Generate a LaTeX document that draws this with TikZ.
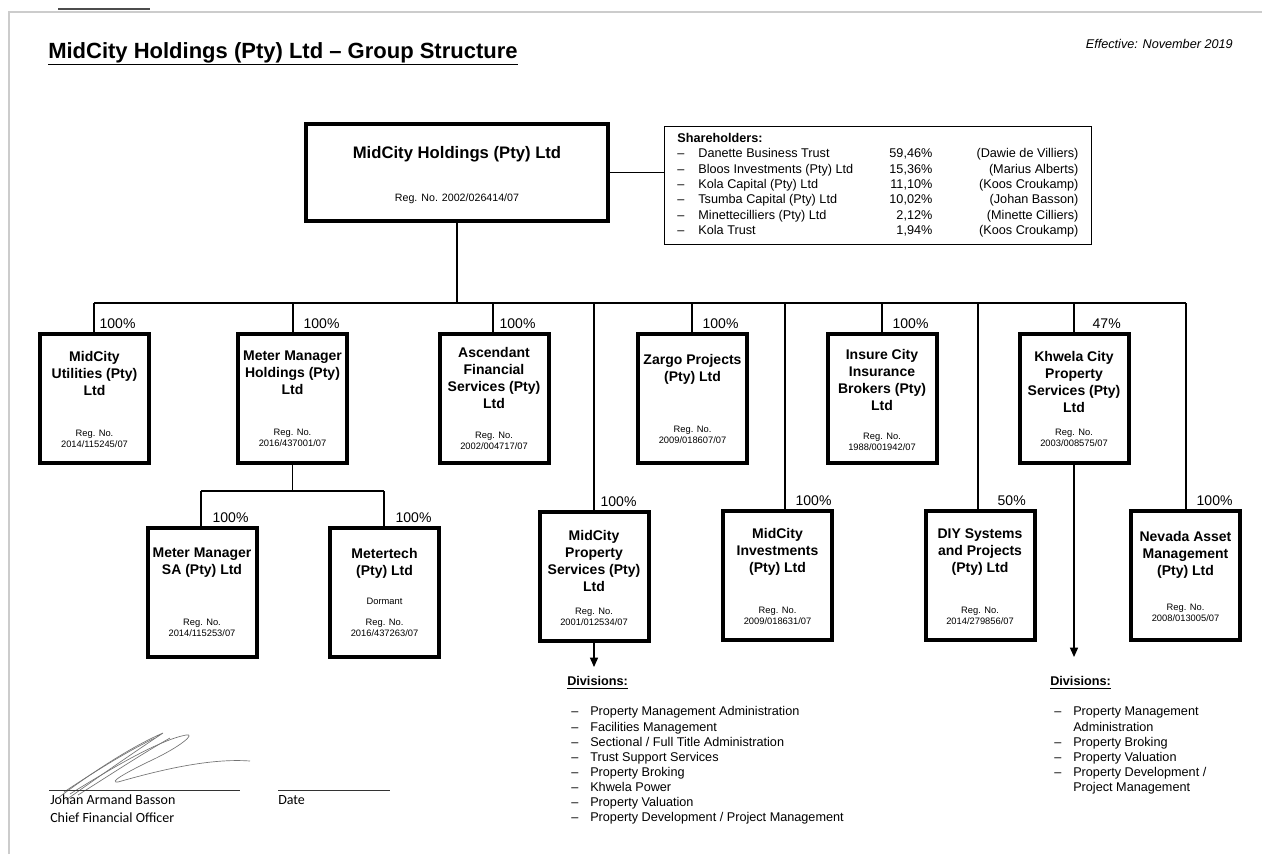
\documentclass[tikz,border=0pt]{standalone}
\usepackage{fontspec}
\setmainfont{Liberation Sans}
\newfontfamily\sigfont{Carlito}
\usepackage{array}
\usetikzlibrary{arrows.meta}

\tikzset{
  box/.style={draw, line width=3pt, minimum width=81.75pt, minimum height=96.75pt, inner sep=0pt},
  coname/.style={font=\fontsize{10.5}{12.75}\selectfont\bfseries, align=center, anchor=north, inner sep=0pt},
  regno/.style={font=\fontsize{7}{8.25}\selectfont, align=center, inner sep=0pt},
  pct/.style={font=\fontsize{10.5}{12}\selectfont, anchor=south west, inner sep=0pt, xshift=#1*0.75pt, yshift=2pt},
  pct/.default=10,
  link/.style={line width=1pt},
  arr/.style={line width=1pt, -{Triangle[length=7pt,width=6pt]}},
  divs/.style={font=\fontsize{9.5}{11.36}\selectfont, anchor=north west, inner sep=0pt},
  sig/.style={font=\sigfont\fontsize{10.5}{12}\selectfont, anchor=base west, inner sep=0pt},
}

\begin{document}
\begin{tikzpicture}[x=0.75pt, y=-0.75pt]
\useasboundingbox (0,0) rectangle (1262,854);

%% 页面边框
\draw[black!20, line width=1.2pt] (9,854) -- (9,12) -- (1262,12);
\draw[black!70, line width=1.5pt] (58,9) -- (150,9);

%% 标题
\node[font=\fontsize{16.5}{19}\selectfont\bfseries, anchor=base west, inner sep=0pt] (title) at (48,58) {\underline{MidCity Holdings (Pty) Ltd – Group Structure}};
\node[font=\fontsize{9.5}{11}\selectfont\itshape, anchor=base east, inner sep=0pt] (eff) at (1233,48.5) {Effective: November 2019};

%% 母公司
\node[box, minimum width=226.5pt, minimum height=72.75pt] (root) at (457,172.5) {};
\node[font=\fontsize{12.5}{15}\selectfont\bfseries, anchor=base, inner sep=0pt] (root-n) at (457,158) {MidCity Holdings (Pty) Ltd};
\node[font=\fontsize{8}{9}\selectfont, anchor=base, inner sep=0pt] (root-r) at (457,201.8) {Reg. No. 2002/026414/07};

%% 股东
\node[draw, line width=0.6pt, anchor=north west, inner xsep=9.75pt, inner ysep=4pt, font=\fontsize{9.5}{11.5}\selectfont] (sh) at (664,126) {%
\begin{tabular}{@{}p{15.75pt}@{}p{141.75pt}@{}>{\raggedleft\arraybackslash}p{33.75pt}@{}>{\raggedleft\arraybackslash}p{109.5pt}@{}}
\multicolumn{4}{@{}l@{}}{\bfseries Shareholders:}\\
– & Danette Business Trust & 59,46\% & (Dawie de Villiers)\\
– & Bloos Investments (Pty) Ltd & 15,36\% & (Marius Alberts)\\
– & Kola Capital (Pty) Ltd & 11,10\% & (Koos Croukamp)\\
– & Tsumba Capital (Pty) Ltd & 10,02\% & (Johan Basson)\\
– & Minettecilliers (Pty) Ltd & 2,12\% & (Minette Cilliers)\\
– & Kola Trust & 1,94\% & (Koos Croukamp)
\end{tabular}};
\draw[link] (root.east) -- (root.east -| sh.west);

%% 子公司(第一排)
\node[box] (util) at (94.5,398.5) {};
\node[coname] (util-n) at (94.5,351) {MidCity\\Utilities (Pty)\\Ltd};
\node[regno] (util-r) at (94.5,438.5) {Reg. No.\\2014/115245/07};

\node[box] (mmh) at (292.5,398.5) {};
\node[coname] (mmh-n) at (292.5,351) {Meter Manager\\Holdings (Pty)\\Ltd};
\node[regno] (mmh-r) at (292.5,437.5) {Reg. No.\\2016/437001/07};

\node[box] (asc) at (494,398) {};
\node[coname] (asc-n) at (494,347) {Ascendant\\Financial\\Services (Pty)\\Ltd};
\node[regno] (asc-r) at (494,440.5) {Reg. No.\\2002/004717/07};

\node[box] (zargo) at (692.5,398.5) {};
\node[coname] (zargo-n) at (692.5,354) {Zargo Projects\\(Pty) Ltd};
\node[regno] (zargo-r) at (692.5,435) {Reg. No.\\2009/018607/07};

\node[box] (insure) at (882,398.5) {};
\node[coname] (insure-n) at (882,349) {Insure City\\Insurance\\Brokers (Pty)\\Ltd};
\node[regno] (insure-r) at (882,441.5) {Reg. No.\\1988/001942/07};

\node[box] (khwela) at (1074,398) {};
\node[coname] (khwela-n) at (1074,351) {Khwela City\\Property\\Services (Pty)\\Ltd};
\node[regno] (khwela-r) at (1074,438) {Reg. No.\\2003/008575/07};

%% 子公司(第二排)
\node[box] (mmsa) at (202,592) {};
\node[coname] (mmsa-n) at (202,548) {Meter Manager\\SA (Pty) Ltd};
\node[regno] (mmsa-r) at (202,627.5) {Reg. No.\\2014/115253/07};

\node[box] (mtech) at (384.5,592) {};
\node[coname] (mtech-n) at (384.5,548) {Metertech\\(Pty) Ltd};
\node[regno] (mtech-d) at (384.5,601) {Dormant};
\node[regno] (mtech-r) at (384.5,627.5) {Reg. No.\\2016/437263/07};

\node[box] (mps) at (594,576.5) {};
\node[coname] (mps-n) at (594,530) {MidCity\\Property\\Services (Pty)\\Ltd};
\node[regno] (mps-r) at (594,616.5) {Reg. No.\\2001/012534/07};

\node[box] (minv) at (777.5,575.5) {};
\node[coname] (minv-n) at (777.5,528) {MidCity\\Investments\\(Pty) Ltd};
\node[regno] (minv-r) at (777.5,615.5) {Reg. No.\\2009/018631/07};

\node[box] (diy) at (980,575.5) {};
\node[coname] (diy-n) at (980,528) {DIY Systems\\and Projects\\(Pty) Ltd};
\node[regno] (diy-r) at (980,615.5) {Reg. No.\\2014/279856/07};

\node[box] (nev) at (1185.5,575.5) {};
\node[coname] (nev-n) at (1185.5,531) {Nevada Asset\\Management\\(Pty) Ltd};
\node[regno] (nev-r) at (1185.5,612.5) {Reg. No.\\2008/013005/07};

%% 总线
\coordinate (b-util) at (94,303);
\coordinate (b-mmh) at (293,303);
\coordinate (b-asc) at (493,303);
\coordinate (b-mps) at (594,303);
\coordinate (b-zargo) at (692,303);
\coordinate (b-minv) at (785,303);
\coordinate (b-insure) at (882,303);
\coordinate (b-diy) at (978,303);
\coordinate (b-khwela) at (1074,303);
\coordinate (b-nev) at (1186,303);
\draw[link] (root.south) -- (root.south |- b-util);
\draw[link] (b-util) -- (b-nev);

%% 持股连线
\draw[link] (b-util) -- (b-util |- util.north) node[pct=5] {100\%};
\draw[link] (b-mmh) -- (b-mmh |- mmh.north) node[pct] {100\%};
\draw[link] (b-asc) -- (b-asc |- asc.north) node[pct=6] {100\%};
\draw[link] (b-mps) -- (b-mps |- mps.north) node[pct=6] {100\%};
\draw[link] (b-zargo) -- (b-zargo |- zargo.north) node[pct] {100\%};
\draw[link] (b-minv) -- (b-minv |- minv.north) node[pct] {100\%};
\draw[link] (b-insure) -- (b-insure |- insure.north) node[pct] {100\%};
\draw[link] (b-diy) -- (b-diy |- diy.north) node[pct=19] {50\%};
\draw[link] (b-khwela) -- (b-khwela |- khwela.north) node[pct=18] {47\%};
\draw[link] (b-nev) -- (b-nev |- nev.north) node[pct] {100\%};

%% Meter Manager 下属
\coordinate (b-mmsa) at (201,491);
\coordinate (b-mtech) at (384,491);
\draw[link] (mmh.south) -- (mmh.south |- b-mmsa);
\draw[link] (b-mmsa) -- (b-mtech);
\draw[link] (b-mmsa) -- (b-mmsa |- mmsa.north) node[pct=11] {100\%};
\draw[link] (b-mtech) -- (b-mtech |- mtech.north) node[pct=11] {100\%};

%% 部门
\node[divs] (div1) at (567,675) {%
\begin{tabular}{@{\hspace{3pt}}p{14.25pt}@{}l@{}}
\multicolumn{2}{@{}l@{}}{\bfseries\underline{Divisions:}}\\[11.2pt]
– & Property Management Administration\\
– & Facilities Management\\
– & Sectional / Full Title Administration\\
– & Trust Support Services\\
– & Property Broking\\
– & Khwela Power\\
– & Property Valuation\\
– & Property Development / Project Management
\end{tabular}};
\node[divs] (div2) at (1050,675) {%
\begin{tabular}{@{\hspace{3pt}}p{14.25pt}@{}l@{}}
\multicolumn{2}{@{}l@{}}{\bfseries\underline{Divisions:}}\\[11.2pt]
– & Property Management\\
  & Administration\\
– & Property Broking\\
– & Property Valuation\\
– & Property Development /\\
  & Project Management
\end{tabular}};
\coordinate (mps-end) at (594,667);
\coordinate (khwela-end) at (1074,657);
\draw[arr] (mps.south) -- (mps-end);
\draw[arr] (khwela.south) -- (khwela-end);

%% 签名
\draw[black!55, line width=0.5pt] (58,798) .. controls (95,770) and (135,745) .. (163,733) .. controls (145,745) and (105,772) .. (66,800);
\draw[black!55, line width=0.5pt] (70,794) .. controls (115,766) and (160,740) .. (186,735) .. controls (196,733) and (182,746) .. (150,761) .. controls (125,773) and (108,783) .. (118,782) .. controls (160,770) and (210,758) .. (250,761);
\draw[black!55, line width=0.5pt] (64,792) .. controls (100,768) and (130,750) .. (155,738);
\draw[black!55, line width=0.5pt] (78,795) .. controls (110,775) and (140,755) .. (170,738);
\coordinate (sig-a) at (49,790);
\coordinate (sig-b) at (240,790);
\coordinate (date-a) at (278,790);
\coordinate (date-b) at (390,790);
\draw[black!80, line width=0.6pt] (sig-a) -- (sig-b);
\draw[black!80, line width=0.6pt] (date-a) -- (date-b);
\node[sig] (sig-name) at (50,804.5) {Johan Armand Basson};
\node[sig] (sig-role) at (50,822.5) {Chief Financial Officer};
\node[sig] (sig-date) at (278,804.5) {Date};

\end{tikzpicture}
\end{document}
